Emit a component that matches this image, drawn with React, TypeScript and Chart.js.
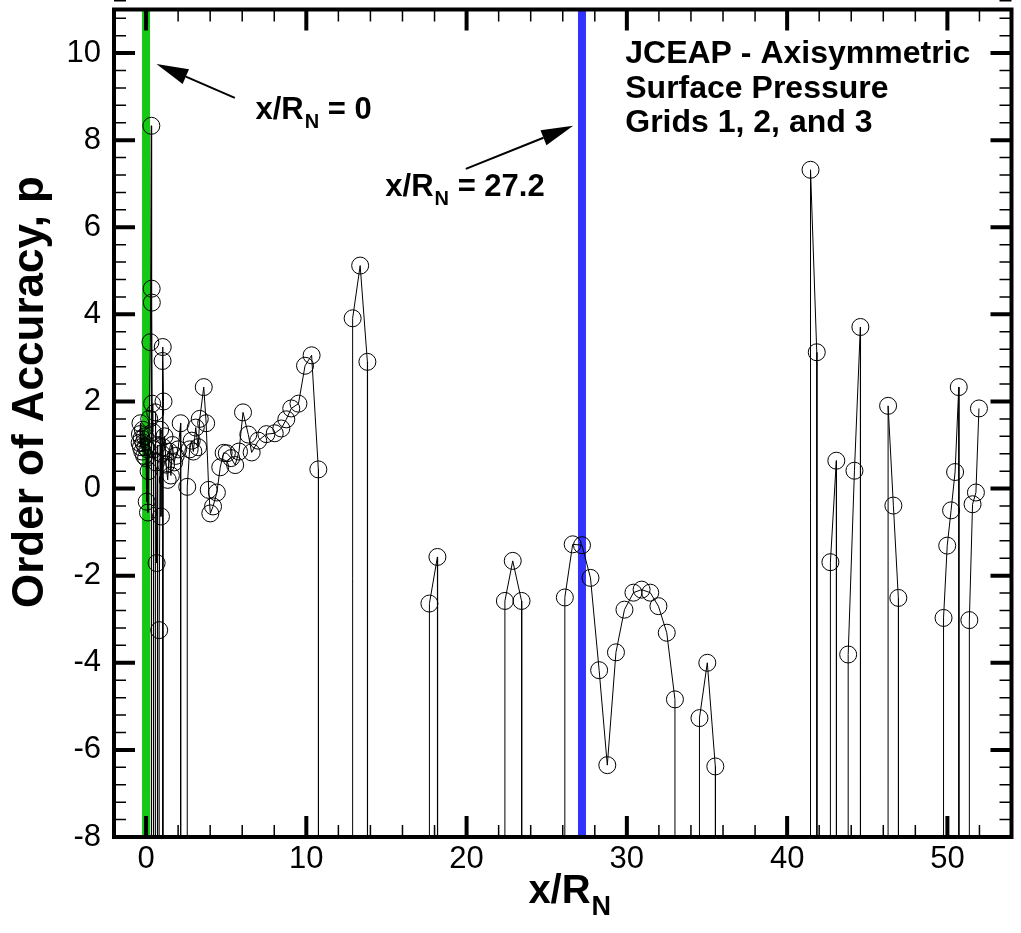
import { useEffect, useRef } from "react";
import { Chart, registerables } from "chart.js";

Chart.register(...registerables);

const FONT = "'Liberation Sans', Arial, Helvetica, sans-serif";

// values far below the axis range (plotted off-scale, only their connecting lines show)
const OFF = -200;

// x/R_N positions (surface ordering)
const xOverRN: number[] = [
  -0.40, -0.38, -0.35, -0.32, -0.28, -0.24, -0.20, -0.16, -0.12, -0.08, -0.04, 0.00,
  0.04, 0.08, 0.12, 0.16, 0.20, 0.27, 0.33, 0.33, 0.35, 0.35, 0.36, 0.38, 0.42, 0.47,
  0.47, 0.57, 0.57, 0.62, 0.66, 0.72, 0.72, 0.82, 0.82, 0.88, 0.93, 0.97, 1.09, 1.03,
  1.04, 1.04, 1.05, 1.06, 1.15, 1.25, 1.35, 1.45, 1.55, 1.65, 1.75, 1.85, 2.00, 2.16,
  2.16, 2.57, 2.57, 2.72, 2.85, 2.95, 3.10, 3.25, 3.35, 3.60, 3.75, 3.91, 4.01, 4.18,
  4.42, 4.63, 4.84, 5.04, 5.31, 5.56, 5.80, 6.05, 6.38, 6.59, 7.00, 7.51, 8.03, 8.44,
  8.75, 9.06, 9.51, 9.92, 10.33, 10.75, 10.76,
  12.88, 12.89, 13.36, 13.81, 13.82,
  17.67, 17.68, 18.18, 18.19,
  22.38, 22.39, 22.88, 23.43, 23.44,
  26.12, 26.13, 26.62, 27.20, 27.73, 28.27, 28.78, 29.32, 29.85, 30.41, 30.92, 31.46,
  31.97, 32.49, 33.00, 33.01,
  34.52, 34.53, 35.02, 35.52, 35.53,
  41.45, 41.46, 41.85, 41.86,
  42.69, 42.70, 43.07, 43.08,
  43.80, 43.81, 44.20, 44.57, 44.58,
  46.29, 46.30, 46.63, 46.94, 46.95,
  49.75, 49.76, 49.99, 50.23, 50.48, 50.71, 50.72,
  51.36, 51.37, 51.57, 51.78, 51.97,
];

// order of accuracy p
const pValues: number[] = [
  1.05, 1.25, 1.50, 0.95, 1.15, 0.85, 1.35, 1.05, 0.75, 1.20, 0.95, 0.70,
  -0.30, 0.90, -0.55, 0.40, 1.60, 3.36, 8.33, OFF, OFF, 4.59, 4.27, 1.95, 1.30, 0.90,
  OFF, OFF, 1.75, 0.60, -1.71, 1.00, OFF, OFF, -3.25, 1.35, -0.64, 0.80, 2.00, 2.93,
  3.25, OFF, OFF, 0.95, 1.20, 0.55, 0.20, 0.85, 0.30, 1.00, 0.60, 0.75, 0.90, 1.50,
  OFF, OFF, 0.04, 0.90, 1.10, 0.85, 1.40, 0.95, 1.60, 2.33, 1.50, -0.03, -0.57, -0.41,
  -0.09, 0.49, 0.82, 0.81, 0.70, 0.54, 0.85, 1.75, 1.24, 0.83, 1.10, 1.25, 1.27, 1.38,
  1.59, 1.84, 1.95, 2.82, 3.06, 0.44, OFF,
  OFF, 3.91, 5.12, 2.91, OFF,
  OFF, -2.64, -1.57, OFF,
  OFF, -2.58, -1.66, -2.58, OFF,
  OFF, -2.50, -1.28, -1.30, -2.05, -4.17, -6.35, -3.76, -2.78, -2.39, -2.32, -2.39,
  -2.70, -3.31, -4.84, OFF,
  OFF, -5.27, -4.00, -6.38, OFF,
  OFF, 7.32, 3.13, OFF,
  OFF, -1.69, 0.64, OFF,
  OFF, -3.81, 0.41, 3.71, OFF,
  OFF, 1.90, -0.39, -2.51, OFF,
  OFF, -2.97, -1.31, -0.50, 0.38, 2.33, OFF,
  OFF, -3.02, -0.36, -0.09, 1.84,
];

// axis ranges and tick steps
const xRange = [-2, 54];
const yRange = [-8, 11];
const xMajorStep = 10;
const xMinorStep = 2;
const yMajorStep = 2;
const yMinorStep = 0.4;

// reference stations x/R_N
const referenceX = [0, 27.2];
const referenceColors = ["#14c814", "#3333ff"];

const infoLines = ["JCEAP - Axisymmetric", "Surface Pressure", "Grids 1, 2, and 3"];

function drawSubLabel(
  ctx: CanvasRenderingContext2D,
  x: number,
  y: number,
  main: string,
  sub: string,
  rest: string,
  size: number,
  subSize: number,
  drop: number
) {
  ctx.textAlign = "left";
  ctx.textBaseline = "alphabetic";
  ctx.font = `bold ${size}px ${FONT}`;
  ctx.fillText(main, x, y);
  let cx = x + ctx.measureText(main).width + 1;
  ctx.font = `bold ${subSize}px ${FONT}`;
  ctx.fillText(sub, cx, y + drop);
  cx += ctx.measureText(sub).width;
  if (rest) {
    ctx.font = `bold ${size}px ${FONT}`;
    ctx.fillText(rest, cx, y);
  }
}

function subLabelWidth(ctx: CanvasRenderingContext2D, main: string, sub: string, size: number, subSize: number) {
  ctx.font = `bold ${size}px ${FONT}`;
  const a = ctx.measureText(main).width + 1;
  ctx.font = `bold ${subSize}px ${FONT}`;
  return a + ctx.measureText(sub).width;
}

function drawArrow(ctx: CanvasRenderingContext2D, x1: number, y1: number, x2: number, y2: number) {
  const ang = Math.atan2(y2 - y1, x2 - x1);
  const headLen = 32;
  const headHalf = 8;
  const bx = x2 - headLen * Math.cos(ang);
  const by = y2 - headLen * Math.sin(ang);
  ctx.strokeStyle = "#000";
  ctx.fillStyle = "#000";
  ctx.lineWidth = 2;
  ctx.beginPath();
  ctx.moveTo(x1, y1);
  ctx.lineTo(bx, by);
  ctx.stroke();
  ctx.beginPath();
  ctx.moveTo(x2, y2);
  ctx.lineTo(bx + headHalf * Math.sin(ang), by - headHalf * Math.cos(ang));
  ctx.lineTo(bx - headHalf * Math.sin(ang), by + headHalf * Math.cos(ang));
  ctx.closePath();
  ctx.fill();
}

const framePlugin = {
  id: "framePlugin",
  beforeDatasetsDraw(chart: any) {
    const { ctx, chartArea: a, scales } = chart;
    const xs = scales.x;
    ctx.save();
    ctx.beginPath();
    ctx.rect(a.left, a.top, a.right - a.left, a.bottom - a.top);
    ctx.clip();
    referenceX.forEach((v, i) => {
      const px = xs.getPixelForValue(v);
      ctx.strokeStyle = referenceColors[i];
      ctx.lineWidth = 8;
      ctx.beginPath();
      ctx.moveTo(px, a.top);
      ctx.lineTo(px, a.bottom);
      ctx.stroke();
    });
    ctx.restore();
  },
  afterDraw(chart: any) {
    const { ctx, chartArea: a, scales } = chart;
    const xs = scales.x;
    const ys = scales.y;
    ctx.save();
    ctx.strokeStyle = "#000";
    ctx.lineCap = "butt";
    const majorLen = 21;
    const minorLen = 12;
    // y ticks (left and right, inward)
    const nY = Math.round((yRange[1] - yRange[0]) / yMinorStep);
    for (let i = 0; i <= nY; i++) {
      const v = yRange[0] + i * yMinorStep;
      const r = v / yMajorStep;
      const major = Math.abs(r - Math.round(r)) < 1e-6;
      const py = ys.getPixelForValue(v);
      ctx.lineWidth = major ? 4 : 1.5;
      const len = major ? majorLen : minorLen;
      ctx.beginPath();
      ctx.moveTo(a.left, py);
      ctx.lineTo(a.left + len, py);
      ctx.moveTo(a.right, py);
      ctx.lineTo(a.right - len, py);
      ctx.stroke();
    }
    const nX = Math.round((xRange[1] - xRange[0]) / xMinorStep);
    for (let i = 0; i <= nX; i++) {
      const v = xRange[0] + i * xMinorStep;
      const r = v / xMajorStep;
      const major = Math.abs(r - Math.round(r)) < 1e-6;
      const px = xs.getPixelForValue(v);
      ctx.lineWidth = major ? 4 : 1.5;
      const len = major ? majorLen : minorLen;
      ctx.beginPath();
      ctx.moveTo(px, a.bottom);
      ctx.lineTo(px, a.bottom - len);
      ctx.moveTo(px, a.top);
      ctx.lineTo(px, a.top + len);
      ctx.stroke();
    }
    // frame
    ctx.lineWidth = 4;
    ctx.strokeRect(a.left, a.top, a.right - a.left, a.bottom - a.top);

    // annotations
    ctx.fillStyle = "#000";
    drawArrow(ctx, xs.getPixelForValue(5.54), ys.getPixelForValue(8.97), xs.getPixelForValue(0.65), ys.getPixelForValue(9.75));
    drawSubLabel(ctx, xs.getPixelForValue(6.83), ys.getPixelForValue(8.49), "x/R", "N", " = 0", 31, 20, 9);
    drawArrow(ctx, xs.getPixelForValue(19.95), ys.getPixelForValue(7.34), xs.getPixelForValue(26.65), ys.getPixelForValue(8.33));
    drawSubLabel(ctx, xs.getPixelForValue(14.93), ys.getPixelForValue(6.72), "x/R", "N", " = 27.2", 31, 20, 9);

    ctx.font = `bold 32px ${FONT}`;
    ctx.textAlign = "left";
    ctx.textBaseline = "alphabetic";
    const infoBase = [9.77, 8.97, 8.19];
    infoLines.forEach((t, i) => {
      ctx.fillText(t, xs.getPixelForValue(29.9), ys.getPixelForValue(infoBase[i]));
    });

    // axis titles
    const tw = subLabelWidth(ctx, "x/R", "N", 40, 27);
    const cx = (a.left + a.right) / 2 + 7;
    drawSubLabel(ctx, cx - tw / 2, 903, "x/R", "N", "", 40, 27, 12);

    ctx.save();
    ctx.translate(31, 392);
    ctx.rotate(-Math.PI / 2);
    ctx.font = `bold 44px ${FONT}`;
    ctx.textAlign = "center";
    ctx.textBaseline = "middle";
    ctx.fillText("Order of Accuracy, p", 0, 0);
    ctx.restore();

    ctx.restore();
  },
};

export default function App() {
  const canvasRef = useRef<HTMLCanvasElement | null>(null);

  useEffect(() => {
    const canvas = canvasRef.current;
    if (!canvas) return;
    const points = xOverRN.map((x, i) => ({ x, y: pValues[i] }));
    const zeroPad = (s: any) => {
      s.paddingTop = 0;
      s.paddingBottom = 0;
      s.paddingLeft = 0;
      s.paddingRight = 0;
    };
    const chart = new Chart(canvas, {
      type: "scatter",
      data: {
        datasets: [
          {
            data: points,
            showLine: true,
            borderColor: "#000",
            borderWidth: 1,
            pointRadius: 8.5,
            pointBorderWidth: 1,
            pointBorderColor: "#000",
            pointBackgroundColor: "rgba(0,0,0,0)",
            tension: 0,
          },
        ],
      },
      options: {
        animation: false,
        responsive: false,
        devicePixelRatio: 1,
        layout: { padding: { top: 8, right: 1, left: 0, bottom: 0 } },
        plugins: { legend: { display: false }, tooltip: { enabled: false } },
        scales: {
          x: {
            type: "linear",
            min: xRange[0],
            max: xRange[1],
            grid: { display: false, drawTicks: false },
            border: { display: false },
            ticks: {
              stepSize: xMajorStep,
              includeBounds: false,
              maxRotation: 0,
              padding: 4,
              color: "#000",
              font: { family: FONT, size: 31 },
            },
            afterFit: (s: any) => {
              s.height = 96;
              zeroPad(s);
            },
          },
          y: {
            type: "linear",
            min: yRange[0],
            max: yRange[1],
            grid: { display: false, drawTicks: false },
            border: { display: false },
            ticks: {
              stepSize: yMajorStep,
              includeBounds: false,
              padding: 13,
              color: "#000",
              font: { family: FONT, size: 31 },
            },
            afterFit: (s: any) => {
              s.width = 114;
              zeroPad(s);
            },
          },
        },
      },
      plugins: [framePlugin],
    });
    return () => chart.destroy();
  }, []);

  return (
    <div style={{ position: "absolute", left: 0, top: 0, width: 1021, height: 933, background: "#fff" }}>
      <canvas ref={canvasRef} width={1021} height={933} style={{ display: "block" }} />
    </div>
  );
}
